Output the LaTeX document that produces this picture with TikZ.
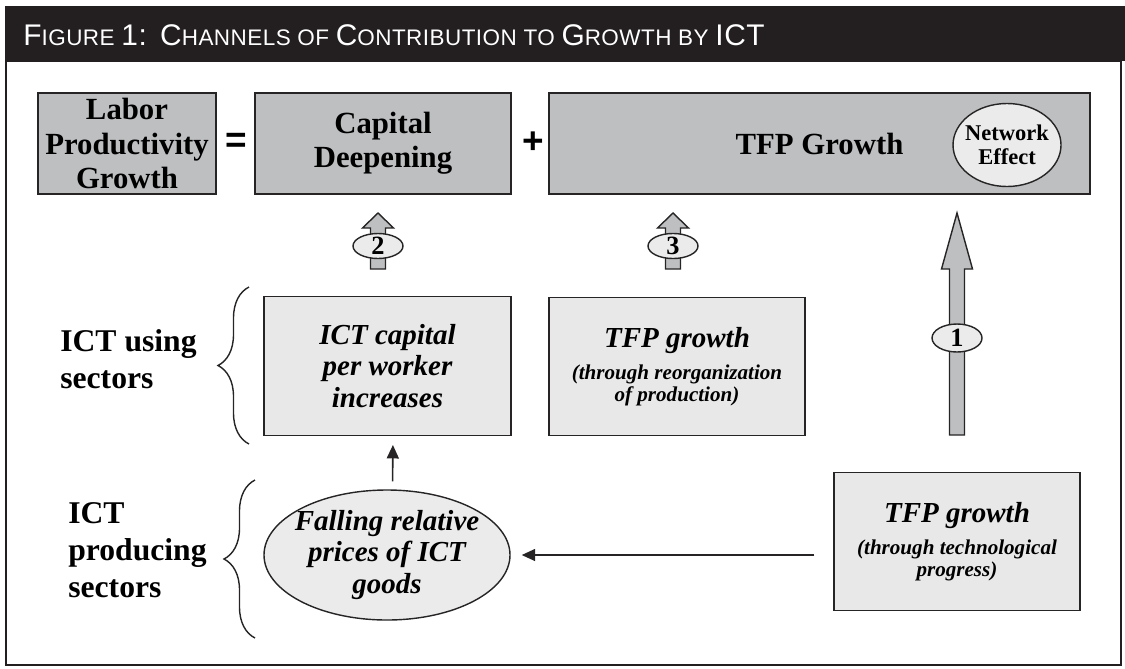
\documentclass[tikz,border=0pt]{standalone}
\usepackage{fontspec}
\setmainfont{Liberation Serif}
\newfontfamily\titlefont[LetterSpace=2]{Liberation Sans}
\newfontfamily\signfont{Liberation Sans}
\usepackage{tikz}
\usetikzlibrary{shapes.geometric, arrows.meta, positioning, decorations.pathreplacing}
\definecolor{barblack}{RGB}{35,31,32}
\definecolor{edgegray}{RGB}{38,36,37}
\definecolor{topfill}{RGB}{190,191,193}
\definecolor{lowfill}{RGB}{232,232,232}
\definecolor{ovalfill}{RGB}{235,235,236}
\newcommand{\titlecap}[1]{{\fontsize{17}{18}\selectfont #1}}
\newcommand{\titlesmall}[1]{{\fontsize{12.8}{14}\selectfont #1}}

\begin{document}
\begin{tikzpicture}[
    node distance=0.8cm,
    topbox/.style={rectangle, draw=edgegray, fill=topfill, line width=0.8pt, minimum height=2.02cm, inner sep=2pt, align=center, font=\fontsize{17.5}{19.5}\selectfont\bfseries},
    lowbox/.style={rectangle, draw=edgegray, fill=lowfill, line width=0.8pt, minimum height=2.77cm, inner sep=2pt, align=center, font=\fontsize{16.5}{18}\selectfont\bfseries\itshape},
    notebox/.style={lowbox, font=\fontsize{12}{12.5}\selectfont\bfseries\itshape},
    bigoval/.style={ellipse, draw=edgegray, fill=ovalfill, line width=0.8pt, inner xsep=-0.2cm, inner ysep=0pt, align=center},
    numoval/.style={ellipse, draw=edgegray, fill=ovalfill, line width=0.8pt, minimum width=1.0cm, minimum height=0.5cm, inner sep=0pt, font=\fontsize{15}{15}\selectfont\bfseries},
    opsign/.style={inner sep=0pt, font=\signfont\bfseries\fontsize{21}{21}\selectfont},
    sectorlabel/.style={anchor=west, align=left, inner sep=0pt, font=\fontsize{18}{21}\selectfont\bfseries},
    blockarrow/.style={draw=edgegray, fill=topfill, line width=0.8pt},
    thinarrow/.style={draw=edgegray, line width=0.9pt, -{Triangle[width=0.24cm, length=0.27cm]}},
    sectorbrace/.style={draw=edgegray, line width=0.8pt, decorate, decoration={brace, amplitude=0.62cm}}
    ]
    \useasboundingbox (0,0) rectangle (22.5,-13.36);

    % Heading bar and frame
    \fill[barblack] (0.10,-0.12) rectangle (22.5,-1.22);
    \draw[barblack, line width=1.3pt] (0.12,-1.22) rectangle (22.42,-13.30);
    \node[anchor=base west, inner sep=0pt, text=white, font=\titlefont\fontsize{12.8}{14}\selectfont] (title) at (0.46,-0.90)
        {\titlecap{F}\titlesmall{IGURE} \titlecap{1:}\ \ \titlecap{C}\titlesmall{HANNELS OF} \titlecap{C}\titlesmall{ONTRIBUTION TO} \titlecap{G}\titlesmall{ROWTH BY} \titlecap{ICT}};

    % Growth accounting row
    \node[topbox, minimum width=3.56cm] (labor) at (2.54,-2.87) {Labor\\Productivity\\Growth};
    \node[opsign] (equals) at (4.72,-2.86) {=};
    \node[topbox, minimum width=5.12cm] (capital) at (7.66,-2.87) {Capital\\Deepening};
    \node[opsign] (plus) at (10.66,-2.86) {+};
    \node[topbox, minimum width=10.82cm] (tfp) at (16.39,-2.87) {TFP Growth};
    \node[bigoval, minimum width=2.16cm, minimum height=1.66cm, inner xsep=-0.1cm, font=\fontsize{12.8}{14}\selectfont\bfseries] (network) at (20.14,-2.90) {Network\\Effect};

    % Channels 2, 3 and 1
    \filldraw[blockarrow] (7.41,-5.38) -- (7.41,-4.56) -- (7.25,-4.56) -- (7.56,-4.26) -- (7.87,-4.56) -- (7.71,-4.56) -- (7.71,-5.38) -- cycle;
    \filldraw[blockarrow] (13.31,-5.38) -- (13.31,-4.56) -- (13.15,-4.56) -- (13.46,-4.26) -- (13.77,-4.56) -- (13.61,-4.56) -- (13.61,-5.38) -- cycle;
    \filldraw[blockarrow] (18.99,-8.70) -- (18.99,-5.38) -- (18.83,-5.38) -- (19.14,-4.26) -- (19.45,-5.38) -- (19.29,-5.38) -- (19.29,-8.70) -- cycle;
    \node[numoval] (chan2) at (7.56,-4.92) {2};
    \node[numoval] (chan3) at (13.46,-4.92) {3};
    \node[numoval, minimum height=0.56cm] (chan1) at (19.14,-6.76) {1};

    % ICT using sectors
    \node[sectorlabel] (using) at (1.20,-7.19) {ICT using\\sectors};
    \draw[sectorbrace] (4.98,-8.88) -- (4.98,-5.74);
    \node[lowbox, minimum width=4.94cm] (ictcap) at (7.75,-7.32) {ICT capital\\per worker\\increases};
    \node[notebox, minimum width=5.12cm] (reorg) at (13.54,-7.33) {{\fontsize{16.5}{18}\selectfont TFP growth}\\[6pt](through reorganization\\of production)};

    % ICT producing sectors
    \node[sectorlabel] (producing) at (1.36,-11.01) {ICT\\producing\\sectors};
    \draw[sectorbrace] (5.10,-12.76) -- (5.10,-9.60);
    \node[bigoval, minimum width=4.92cm, minimum height=2.60cm, font=\fontsize{16.5}{18}\selectfont\bfseries\itshape] (prices) at (7.74,-11.10) {Falling relative\\prices of ICT\\goods};
    \node[notebox, minimum width=4.92cm] (tech) at (19.14,-10.83) {{\fontsize{16.5}{18}\selectfont TFP growth}\\[6pt](through technological\\progress)};

    \draw[thinarrow, shorten <=0.16cm, shorten >=0.18cm] ([xshift=0.11cm]prices.north) -- ([xshift=0.11cm]ictcap.south);
    \draw[thinarrow, shorten <=0.38cm, shorten >=0.22cm] (tech.west |- prices.east) -- (prices.east);
\end{tikzpicture}
\end{document}
